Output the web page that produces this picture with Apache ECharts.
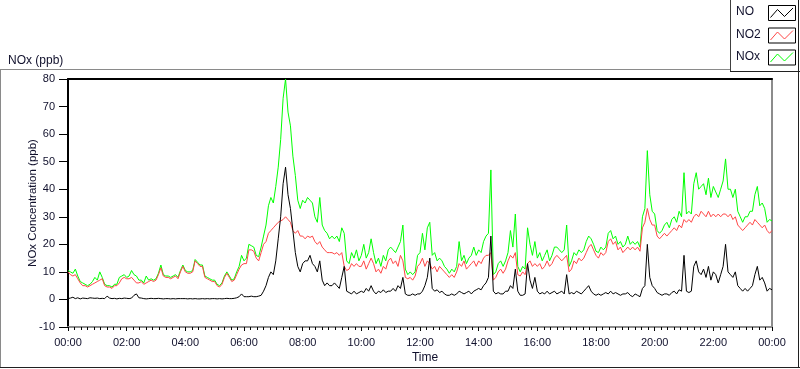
<!DOCTYPE html>
<html>
<head>
<meta charset="utf-8">
<script src="https://cdn.jsdelivr.net/npm/echarts@6/dist/echarts.min.js"></script>
<style>
html,body{margin:0;padding:0;background:#fff;}
#chart{width:800px;height:369px;}
</style>
</head>
<body>
<div id="chart"></div>
<script>
// Sample spacing: 5 minutes, from 00:00 to 24:00
const stepMinutes = 5;

const noValues = [
0.3,0.5,0.8,0.3,0.6,0.2,0.5,0.4,0.3,0.6,0.5,0.4,
0.5,0.3,0.4,0.3,1.2,0.5,0.3,0.4,0.2,0.4,0.3,0.5,
0.4,0.3,0.5,1.5,2,0.6,0.5,0.3,0.2,0.3,0.4,0.3,
0.3,0.4,0.3,0.2,0.3,0.3,0.2,0.3,0.2,0.3,0.3,0.3,
0.3,0.2,0.3,0.2,0.3,0.2,0.2,0.3,0.2,0.3,0.2,0.3,
0.3,0.2,0.3,0.2,0.3,0.4,0.3,0.3,0.4,0.6,1.0,2.0,
1,1,1,1.2,1,1,1.2,1.5,3,5,8,10,
9,14,22,30,42,48,38,33,25,17,12,10,
13,14,14,16,13,12,10,14,7,5,6,5,
5,6,5,4,8,12,3,2.5,2,3,2,2.5,
3,2.5,4,3,5,3,2,3,2.5,3.5,2.5,3,
3,4,3,5,4,8,2,1.5,1.5,2,1.5,2,
2,3,5,8,15,4,3,3.5,2.5,3,2,1.5,
1.5,2,1.5,2,3,2.5,2,2.5,3,2,3,3.5,
4,3.5,5,6,8,23,3,2,2.5,2,2,3,
3,5,4,11,3,1.5,1.5,2,13,7,4,8,
3,2,2.5,2,3,2,2.5,3,2,2.5,3,2,
9,2,2.5,2,3,2.5,2,3,4,5,3,2,
1.5,2,1.5,2,2.5,2,3,2,2.5,2,1.5,2,
2,2.5,1.5,1,2,1.5,1,4,5,20,8,5,
4,2.5,2,1.5,2,2,1.5,2.5,3,2,3.5,3,
16,3,2.5,3,12,14,10,9,11,8,12,7,
10,9,6,9,12,20,10,9,8,10,5,4,
3,4,3,4,5,9,12,7,8,6,3,4,3.5
];

const no2Values = [
10,9,8.5,9,7.5,6,5,5,4.5,5,5.5,6,
6.5,7,7.5,5,4.5,4.5,4,5,5,6,7.5,8,
7.5,7.5,8,7,6,6,6.5,5.5,6,6.5,7,6.5,
7,9,11.5,8.5,8,8,7.5,8,8.5,7.5,10,12,
10,9.5,9.5,10,14,13,12,12,8,7.5,7,6.5,
6.5,5,4.5,5.5,8,9.5,8,6.5,7,9,11,12.5,
13,13,18,18,17.5,15,14,17,20,21,24,25,
26,27,28,28.5,29,30,29,28,25,24,25,23,
23,22,23,22.5,23,21,20,21,19,18,17,17,
17,16.5,17,16,17,12,10.5,11,13,12,13,12,
12,14,11,13,15,13,10,11,9.5,12,11,14,
15,13,14,12,16,14,8,7.5,8,7,8.5,12,
13,15,12,14,13,11,12,10,12,11,10,9,
8,9,8,10,13,12,14,11,12,13,14,12,
14,13,15,16,16,17,7,8,10,11,9.5,11,
14,16,15,17,9,8.5,10,9,13,14,12,13,
12,13,11,12,14,12,13,15,16,15,14,15,
16,10,11,14,13,15,14,15,17,19,20,18,
16,15,17,16,17,21,22,20,21,18,19,17,
18,19,18,19,18,19,17.5,26,28,33,29,27,
27,23,22,23,24,23,24,25,26,25,27,26,
29,28,29,28,30,31,30,32,31,30,32,30,
31,30,31,30,31,31,30,31,29,30,27,26,
25,26,27,28,27,29,28,27,26,27,25,24,25
];

const noxValues = [
10.5,10,9.5,11,8.5,6.5,6,5.5,5,5.5,6.5,8,
7,10,8,5.5,5,5,4.5,5.5,5.5,8,8.5,9,
8,8.5,10.5,9,8.5,7,7,6,8.5,7,7.5,7,
7.5,9.5,12.5,9,8.5,8.5,8,8.5,9,8,10.5,12.5,
10.5,10,10,10.5,14.5,13.5,12.5,12.5,8.5,8,7.5,7,
7,5.5,5,6,8.5,10,8.5,7,7.5,10,12,16,
14,15,20,19.5,19,16,15.5,19,23,27,34,37,
35,41,48,58,73,80,68,63,52,45,36,33,
36,35,37,36,35,30,28,37,27,25,24,22,
23,22,23,21,26,24,14,13,17,15,18,14,
16,20,15,17,22,17,13,15,12,16,14,18,
19,18,17,19,21,27,11,9,10,9,10,16,
17,24,18,26,28,16,17,14,15,14,12,11,
9.5,11,10,12,21,14,16,13,15,16,19,16,
18,17,21,23,24,47,9,10,13,14,12,14,
17,25,19,31,12,10,12,11,26,20,16,21,
15,17,14,16,18,14,16,19,19,18,17,18,
27,12,14,17,16,18,17,18,21,23,22,20,
17.5,17,19,18,19,24,25,22,23,20,21,19,
20,23,20,21,20,21,19,30,33,54,38,32,
31,25,24,25,27,28,26,29,30,28,32,30,
46,31,32,31,42,46,40,41,42,38,44,37,
41,39,37,40,43,51,40,40,37,40,32,30,
28,30,30,32,32,38,41,34,35,33,28,29,28.5
];

const seriesNames = ['NO', 'NO2', 'NOx'];
const seriesColors = ['#000000', '#ff4646', '#00ff00'];
const yTicks = { min: -10, max: 80, step: 10 };
const xTicks = { min: 0, max: 1440, step: 120 };

function pairs(vals) {
  return vals.map((v, i) => [i * stepMinutes, v]);
}
function fmtTime(m) {
  const h = Math.floor(m / 60) % 24, mm = m % 60;
  return String(h).padStart(2, '0') + ':' + String(mm).padStart(2, '0');
}

const textColor = '#10102c';
const FONT = 'Liberation Sans';

const chart = echarts.init(document.getElementById('chart'), null, { renderer: 'canvas' });

// legend graphics (LabVIEW-style plot legend)
const legendGraphics = [];
const boxTops = [5, 27.5, 49.5];
seriesNames.forEach((name, k) => {
  const top = boxTops[k];
  legendGraphics.push({
    type: 'text', left: 736, top: top + 1,
    style: { text: name, fill: textColor, font: '12px "' + FONT + '"' }, silent: true
  });
  legendGraphics.push({
    type: 'rect', shape: { x: 768.5, y: top + 0.5, width: 27, height: 15 },
    style: { fill: '#fff', stroke: '#000', lineWidth: 1 }, silent: true
  });
  legendGraphics.push({
    type: 'polyline',
    shape: { points: [[770.5, top + 12.5], [777.5, top + 4.5], [784.5, top + 11.5], [793, top + 3]] },
    style: { stroke: seriesColors[k], lineWidth: 1, fill: null }, silent: true
  });
});

const option = {
  animation: false,
  backgroundColor: '#ffffff',
  textStyle: { fontFamily: FONT, color: textColor },
  title: {
    text: 'NOx (ppb)', left: 3, top: 50,
    textStyle: { fontFamily: FONT, fontSize: 12, fontWeight: 'normal', color: textColor }
  },
  grid: { left: 68, right: 28, top: 79, bottom: 40, containLabel: false },
  xAxis: [{
    type: 'value', min: xTicks.min, max: xTicks.max, interval: xTicks.step,
    name: 'Time', nameLocation: 'middle', nameGap: 25, nameMoveOverlap: false,
    nameTextStyle: { fontFamily: FONT, fontSize: 12, color: textColor, padding: [0, 0, 0, 10] },
    axisLine: { show: true, onZero: false, lineStyle: { color: '#8c8c8c', width: 2 } },
    axisTick: { show: true, length: 4, lineStyle: { color: '#000', width: 1 } },
    minorTick: { show: true, splitNumber: 9, length: 3, lineStyle: { color: '#000', width: 1 } },
    axisLabel: { formatter: fmtTime, fontSize: 11, color: textColor, margin: 10, fontFamily: FONT },
    splitLine: { show: false }
  }, {
    type: 'value', position: 'top', min: xTicks.min, max: xTicks.max,
    axisLine: { show: true, onZero: false, lineStyle: { color: '#000', width: 2 } },
    axisTick: { show: false }, axisLabel: { show: false }, splitLine: { show: false }
  }],
  yAxis: [{
    type: 'value', min: yTicks.min, max: yTicks.max, interval: yTicks.step,
    name: 'NOx Concentration (ppb)', nameLocation: 'middle', nameGap: 29, nameMoveOverlap: false,
    nameTextStyle: { fontFamily: FONT, fontSize: 11.5, color: textColor },
    axisLine: { show: true, onZero: false, lineStyle: { color: '#000', width: 2 } },
    axisTick: { show: true, length: 9, lineStyle: { color: '#000', width: 1 } },
    axisLabel: { fontSize: 11, color: textColor, margin: 13, fontFamily: FONT },
    splitLine: { show: false }
  }, {
    type: 'value', position: 'right', min: yTicks.min, max: yTicks.max,
    axisLine: { show: true, onZero: false, lineStyle: { color: '#8c8c8c', width: 2 } },
    axisTick: { show: false }, axisLabel: { show: false }, splitLine: { show: false }
  }],
  series: [
    { name: 'NOx', type: 'line', data: pairs(noxValues), showSymbol: false, symbol: 'none',
      lineStyle: { color: seriesColors[2], width: 1 }, z: 2 },
    { name: 'NO2', type: 'line', data: pairs(no2Values), showSymbol: false, symbol: 'none',
      lineStyle: { color: seriesColors[1], width: 1 }, z: 3 },
    { name: 'NO', type: 'line', data: pairs(noValues), showSymbol: false, symbol: 'none',
      lineStyle: { color: seriesColors[0], width: 1 }, z: 4 }
  ],
  graphic: [
    // outer panel frame
    { type: 'line', shape: { x1: 0, y1: 69.5, x2: 730, y2: 69.5 }, style: { stroke: '#8a8a8a', lineWidth: 1 }, silent: true },
    { type: 'line', shape: { x1: 0.5, y1: 69.5, x2: 0.5, y2: 367 }, style: { stroke: '#8a8a8a', lineWidth: 1 }, silent: true },
    { type: 'line', shape: { x1: 0, y1: 367.5, x2: 800, y2: 367.5 }, style: { stroke: '#202020', lineWidth: 1 }, silent: true },
    { type: 'line', shape: { x1: 798.5, y1: 71, x2: 798.5, y2: 368 }, style: { stroke: '#202020', lineWidth: 1 }, silent: true },
    // legend box
    { type: 'line', shape: { x1: 730.5, y1: 0, x2: 730.5, y2: 72 }, style: { stroke: '#404040', lineWidth: 1 }, silent: true },
    { type: 'line', shape: { x1: 730, y1: 71.5, x2: 800, y2: 71.5 }, style: { stroke: '#202020', lineWidth: 1 }, silent: true },
    { type: 'line', shape: { x1: 798.5, y1: 0, x2: 798.5, y2: 72 }, style: { stroke: '#202020', lineWidth: 1 }, silent: true }
  ].concat(legendGraphics)
};

chart.setOption(option);
</script>
</body>
</html>
